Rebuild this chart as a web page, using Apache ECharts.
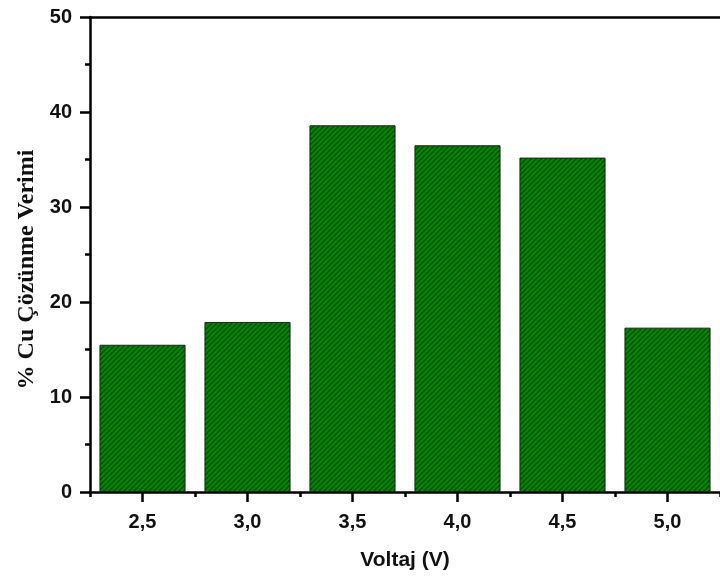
<!DOCTYPE html>
<html>
<head>
<meta charset="utf-8">
<script src="https://cdn.jsdelivr.net/npm/echarts@6/dist/echarts.min.js"></script>
<style>html,body{margin:0;padding:0;background:#fff;}#chart{width:720px;height:576px;}</style>
</head>
<body>
<div id="chart"></div>
<script>
const categories = ['2,5', '3,0', '3,5', '4,0', '4,5', '5,0'];
const efficiency = [15.5, 17.9, 38.6, 36.5, 35.2, 17.3];
const yTitle = '% Cu Çözünme Verimi';
const xTitle = 'Voltaj (V)';

function hatch() {
  const s = 5;
  const c = document.createElement('canvas');
  c.width = s; c.height = s;
  const g = c.getContext('2d');
  g.fillStyle = '#008800';
  g.fillRect(0, 0, s, s);
  g.strokeStyle = '#005000';
  g.lineWidth = 1.5;
  g.beginPath();
  g.moveTo(-1, s + 1); g.lineTo(s + 1, -1);
  g.moveTo(-1, 1); g.lineTo(1, -1);
  g.moveTo(s - 1, s + 1); g.lineTo(s + 1, s - 1);
  g.stroke();
  return c;
}

const chart = echarts.init(document.getElementById('chart'), null, {renderer: 'canvas'});
const axisLineStyle = {color: '#000', width: 2.5};
chart.setOption({
  animation: false,
  grid: {left: 90, top: 17, width: 639, height: 475, containLabel: false},
  xAxis: [
    {
      type: 'category', data: categories, position: 'bottom',
      name: xTitle, nameLocation: 'middle', nameGap: 58,
      nameTextStyle: {fontFamily: 'Liberation Sans, Arial', fontWeight: 'bold', fontSize: 21, color: '#111'},
      axisLine: {lineStyle: axisLineStyle},
      axisTick: {show: true, length: 5, lineStyle: axisLineStyle},
      axisLabel: {margin: 20, fontFamily: 'Liberation Sans, Arial', fontWeight: 'bold', fontSize: 20, color: '#111'},
      splitLine: {show: false}
    },
    {
      // helper scale spanning the same band: 2 units per category, centres at odd values
      type: 'value', position: 'bottom', min: 0, max: categories.length * 2, interval: 2,
      axisLine: {show: false},
      axisTick: {show: false},
      minorTick: {show: true, splitNumber: 2, length: 10, lineStyle: axisLineStyle},
      axisLabel: {show: false},
      splitLine: {show: false}, minorSplitLine: {show: false}
    },
    {
      type: 'category', data: categories, position: 'top',
      axisLine: {show: true, lineStyle: axisLineStyle},
      axisTick: {show: false},
      axisLabel: {show: false},
      splitLine: {show: false}
    }
  ],
  yAxis: {
    type: 'value', min: 0, max: 50, interval: 10,
    name: yTitle, nameLocation: 'middle', nameGap: 50,
    nameTextStyle: {fontFamily: 'Liberation Serif, Times New Roman', fontWeight: 'bold', fontSize: 24, color: '#111', padding: [0, 30, 0, 0]},
    axisLine: {show: true, lineStyle: axisLineStyle},
    axisTick: {show: true, length: 10, lineStyle: axisLineStyle},
    minorTick: {show: true, splitNumber: 2, length: 5, lineStyle: axisLineStyle},
    axisLabel: {margin: 18, fontFamily: 'Liberation Sans, Arial', fontWeight: 'bold', fontSize: 20, color: '#111'},
    splitLine: {show: false}
  },
  series: [{
    type: 'bar',
    xAxisIndex: 0,
    data: efficiency,
    barCategoryGap: '18%',
    itemStyle: {color: {image: hatch(), repeat: 'repeat'}, borderColor: '#222', borderWidth: 1}
  }]
});
</script>
</body>
</html>
